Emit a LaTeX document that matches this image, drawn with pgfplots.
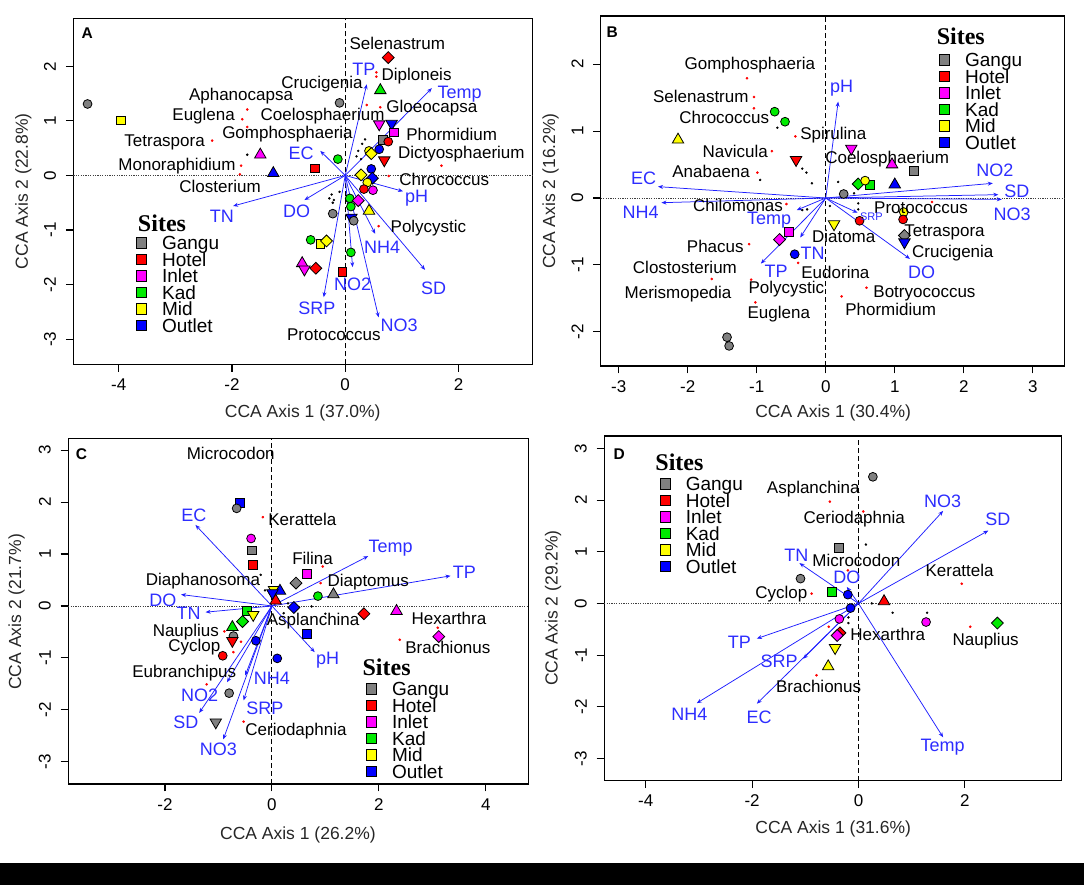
\documentclass[border=0pt]{standalone}
\usepackage{fontspec}
\setmainfont{Liberation Sans}
\newfontfamily\sitesfont{Liberation Serif}
\usepackage{pgfplots}
\pgfplotsset{compat=1.18}
\usetikzlibrary{arrows.meta}

\definecolor{sgray}{RGB}{128,128,128}
\definecolor{hred}{RGB}{255,0,0}
\definecolor{imag}{RGB}{255,0,255}
\definecolor{kgreen}{RGB}{0,235,0}
\definecolor{myel}{RGB}{255,255,0}
\definecolor{oblue}{RGB}{0,0,255}
\definecolor{envblue}{RGB}{45,45,255}
\definecolor{arrblue}{RGB}{30,30,255}

\newcommand\fs[1]{\fontsize{#1}{#1}\selectfont}
\newcommand\lst{\rule[-1.8pt]{0pt}{16.8pt}}

% R-like filled markers
\pgfdeclareplotmark{rtri}{%
  \pgfpathmoveto{\pgfqpoint{0pt}{1.5\pgfplotmarksize}}%
  \pgfpathlineto{\pgfqpoint{1.3\pgfplotmarksize}{-0.75\pgfplotmarksize}}%
  \pgfpathlineto{\pgfqpoint{-1.3\pgfplotmarksize}{-0.75\pgfplotmarksize}}%
  \pgfpathclose\pgfusepathqfillstroke}
\pgfdeclareplotmark{rtriv}{%
  \pgfpathmoveto{\pgfqpoint{0pt}{-1.5\pgfplotmarksize}}%
  \pgfpathlineto{\pgfqpoint{1.3\pgfplotmarksize}{0.75\pgfplotmarksize}}%
  \pgfpathlineto{\pgfqpoint{-1.3\pgfplotmarksize}{0.75\pgfplotmarksize}}%
  \pgfpathclose\pgfusepathqfillstroke}
\pgfdeclareplotmark{rdia}{%
  \pgfpathmoveto{\pgfqpoint{0pt}{1.35\pgfplotmarksize}}%
  \pgfpathlineto{\pgfqpoint{1.35\pgfplotmarksize}{0pt}}%
  \pgfpathlineto{\pgfqpoint{0pt}{-1.35\pgfplotmarksize}}%
  \pgfpathlineto{\pgfqpoint{-1.35\pgfplotmarksize}{0pt}}%
  \pgfpathclose\pgfusepathqfillstroke}

\tikzset{sb/.style={draw=black,line width=0.8pt}}

\newcommand\lgimg[1]{\addlegendimage{legend image code/.code={\draw[black,fill=#1,line width=0.9pt] (-5.3pt,-5.3pt) rectangle (5.3pt,5.3pt);}}}
\newcommand\siteslegend{%
  \lgimg{sgray}\addlegendentry{\lst Gangu}
  \lgimg{hred}\addlegendentry{\lst Hotel}
  \lgimg{imag}\addlegendentry{\lst Inlet}
  \lgimg{kgreen}\addlegendentry{\lst Kad}
  \lgimg{myel}\addlegendentry{\lst Mid}
  \lgimg{oblue}\addlegendentry{\lst Outlet}}

\pgfplotsset{
  sites/.style={scatter, only marks, scatter src=explicit symbolic, mark size=4.4pt, forget plot,
    scatter/classes={
      Gc={mark=*,fill=sgray,sb}, Gs={mark=square*,fill=sgray,sb}, Gd={mark=rdia,fill=sgray,sb}, Gt={mark=rtri,fill=sgray,sb}, Gv={mark=rtriv,fill=sgray,sb},
      Hc={mark=*,fill=hred,sb}, Hs={mark=square*,fill=hred,sb}, Hd={mark=rdia,fill=hred,sb}, Ht={mark=rtri,fill=hred,sb}, Hv={mark=rtriv,fill=hred,sb},
      Ic={mark=*,fill=imag,sb}, Is={mark=square*,fill=imag,sb}, Id={mark=rdia,fill=imag,sb}, It={mark=rtri,fill=imag,sb}, Iv={mark=rtriv,fill=imag,sb},
      Kc={mark=*,fill=kgreen,sb}, Ks={mark=square*,fill=kgreen,sb}, Kd={mark=rdia,fill=kgreen,sb}, Kt={mark=rtri,fill=kgreen,sb}, Kv={mark=rtriv,fill=kgreen,sb},
      Mc={mark=*,fill=myel,sb}, Ms={mark=square*,fill=myel,sb}, Md={mark=rdia,fill=myel,sb}, Mt={mark=rtri,fill=myel,sb}, Mv={mark=rtriv,fill=myel,sb},
      Oc={mark=*,fill=oblue,sb}, Os={mark=square*,fill=oblue,sb}, Od={mark=rdia,fill=oblue,sb}, Ot={mark=rtri,fill=oblue,sb}, Ov={mark=rtriv,fill=oblue,sb}}},
  arrows/.style={arrblue, line width=0.75pt, forget plot, quiver={u=\thisrow{u},v=\thisrow{v}}, -{Stealth[length=5pt,width=4pt]}},
  splab/.style={only marks, mark=none, forget plot, nodes near coords, point meta=explicit symbolic,
    every node near coord/.append style={anchor=center, inner sep=0pt, font=\fs{17}, black}},
  envlab/.style={only marks, mark=none, forget plot, nodes near coords, point meta=explicit symbolic,
    every node near coord/.append style={anchor=center, inner sep=0pt, font=\fs{18}, envblue}},
  reddots/.style={only marks, forget plot, mark=*, mark size=1.1pt, hred},
  blkdots/.style={only marks, forget plot, mark=*, mark size=1.0pt, black},
  vline/.style={forget plot, black, line width=0.9pt, dash pattern=on 5pt off 3pt},
  hline/.style={forget plot, black!75, line width=0.8pt, dash pattern=on 1.2pt off 1.2pt},
  cca/.style={
    scale only axis, clip=false, anchor=south west,
    axis line style={line width=1.1pt},
    every tick/.style={black, line width=1.1pt},
    tick align=outside, major tick length=7.5pt,
    xtick pos=left, ytick pos=left,
    tick label style={font=\fs{17}, inner sep=0pt},
    xticklabel style={anchor=north, outer sep=6.9pt},
    yticklabel style={rotate=90, anchor=south, outer sep=9.9pt},
    label style={font=\fs{17.5}, color=black!85},
    legend style={draw=none, fill=none, inner sep=0pt, outer sep=0pt, anchor=north west,
      font=\fs{19}, column sep=14.8pt, row sep=0pt, nodes={inner sep=0pt}},
    legend cell align=left},
}

\begin{document}
\begin{tikzpicture}
\useasboundingbox (0,0) rectangle (1084pt,885pt);
\fill[black] (0,0) rectangle (1084pt,22pt);

% ---------------- A ----------------
\begin{axis}[cca, at={(73.4pt,520.7pt)}, width=458.7pt, height=346pt,
  xmin=-4.8, xmax=3.3, ymin=-3.46, ymax=2.88,
  xtick={-4,-2,0,2}, xticklabels={-4,-2,0,2},
  ytick={-3,-2,-1,0,1,2}, yticklabels={-3,-2,-1,0,1,2},
  xlabel={CCA Axis 1 (37.0\%)}, ylabel={CCA Axis 2 (22.8\%)},
  xlabel style={at={(axis description cs:0.5,-0.1416)}, anchor=center},
  ylabel style={at={(axis description cs:-0.109,0.5)}, anchor=center},
  legend style={at={(axis description cs:0.136,0.374)}}]
\siteslegend
\addplot[vline] coordinates {(0,-3.46) (0,2.88)};
\addplot[hline] coordinates {(-4.8,0) (3.3,0)};
\addplot[arrows] table[row sep=\\] {x y u v \\
0 0 0.38 1.67 \\ 0 0 1.53 1.60 \\ 0 0 -0.44 0.45 \\ 0 0 -1.98 -0.56 \\
0 0 -0.72 -0.45 \\ 0 0 1.02 -0.29 \\ 0 0 0.53 -1.07 \\ 0 0 1.41 -1.73 \\
0 0 0.59 -2.60 \\ 0 0 0.13 -1.68 \\ 0 0 -0.38 -2.23 \\};
\addplot[blkdots] table[row sep=\\] {x y \\
-1.73 0.38 \\ -0.24 -0.35 \\ -0.20 -0.45 \\ -0.28 -0.42 \\ -0.22 -0.50 \\ 0.23 0.45 \\
0.30 0.58 \\ 0.35 0.66 \\ -0.10 -0.30 \\ 0.28 0.30 \\ 0.20 0.35 \\};
\addplot[reddots] table[row sep=\\] {x y \\
0.55 1.89 \\ 0.55 1.81 \\ -1.73 1.21 \\ 0.62 1.25 \\ 0.38 1.29 \\ -1.82 1.03 \\ -1.73 0.89 \\
-2.35 0.64 \\ 1.70 0.18 \\ -1.84 0.18 \\ 0.77 -0.01 \\ -1.86 0.02 \\ 0.59 -0.93 \\};
\addplot[sites] table[meta=c, row sep=\\] {x y c \\
-4.55 1.31 Gc \\ -3.96 1.01 Ms \\ -1.50 0.38 It \\ -1.27 0.04 Ot \\ -0.54 0.13 Hs \\
-0.10 1.33 Gc \\ 0.62 1.56 Kt \\ 0.76 2.16 Hd \\ 0.60 0.94 Iv \\ 0.82 0.95 Ov \\
0.86 0.79 Is \\ 0.66 0.65 Gs \\ 0.76 0.62 Hc \\ 0.60 0.48 Oc \\ 0.42 0.45 Mc \\
0.46 0.40 Md \\ 0.69 0.28 Hv \\ -0.13 0.30 Kc \\ 0.46 0.12 Oc \\ 0.28 0.01 Md \\
0.48 -0.05 Od \\ 0.39 -0.13 Mc \\ 0.33 -0.25 Hc \\ 0.49 -0.27 Ic \\ 0.08 -0.42 Kc \\
0.23 -0.46 Id \\ 0.10 -0.57 Kc \\ 0.42 -0.65 Mt \\ -0.22 -0.70 Gc \\ 0.11 -0.77 Ov \\
0.15 -0.83 Gc \\ -0.61 -1.18 Kc \\ -0.44 -1.25 Ms \\ -0.33 -1.20 Md \\ 0.10 -1.41 Kc \\
-0.76 -1.61 It \\ -0.72 -1.72 Iv \\ -0.52 -1.70 Hd \\ -0.05 -1.76 Hs \\};
\addplot[splab] table[meta=t, row sep=\\] {x y t \\
0.92 2.42 Selenastrum \\ 1.26 1.82 Diploneis \\ -0.41 1.67 Crucigenia \\
-1.84 1.46 Aphanocapsa \\ 1.53 1.23 Gloeocapsa \\ -2.50 1.09 Euglena \\
-0.40 1.09 Coelosphaerium \\ -1.02 0.76 Gomphosphaeria \\ 1.88 0.76 Phormidium \\
-3.19 0.60 Tetraspora \\ 2.05 0.40 Dictyosphaerium \\ -2.97 0.18 Monoraphidium \\
1.75 -0.07 Chrococcus \\ -2.21 -0.21 Closterium \\ 1.47 -0.97 Polycystic \\
-0.20 -2.92 Protococcus \\};
\addplot[envlab] table[meta=t, row sep=\\] {x y t \\
0.33 1.95 TP \\ 2.02 1.49 Temp \\ -0.78 0.40 EC \\ -2.18 -0.74 TN \\ -0.86 -0.66 DO \\
1.26 -0.42 pH \\ 0.65 -1.32 NH4 \\ 1.56 -2.06 SD \\ 0.95 -2.74 NO3 \\ 0.13 -2.00 NO2 \\
-0.50 -2.43 SRP \\};
\node[anchor=west, inner sep=0pt, font=\sitesfont\bfseries\fs{24}] at (axis description cs:0.1404,0.4075) {Sites};
\node[inner sep=0pt, font=\bfseries\fs{15.5}] at (axis description cs:0.030,0.957) {A};
\end{axis}

% ---------------- B ----------------
\begin{axis}[cca, at={(600.7pt,519pt)}, width=463.9pt, height=350pt,
  xmin=-3.26, xmax=3.46, ymin=-2.51, ymax=2.72,
  xtick={-3,-2,-1,0,1,2,3}, xticklabels={-3,-2,-1,0,1,2,3},
  ytick={-2,-1,0,1,2}, yticklabels={-2,-1,0,1,2},
  xlabel={CCA Axis 1 (30.4\%)}, ylabel={CCA Axis 2 (16.2\%)},
  xlabel style={at={(axis description cs:0.501,-0.134)}, anchor=center},
  ylabel style={at={(axis description cs:-0.108,0.5)}, anchor=center},
  legend style={at={(axis description cs:0.7288,0.898)}}]
\siteslegend
\addplot[vline] coordinates {(0,-2.51) (0,2.72)};
\addplot[hline] coordinates {(-3.26,0) (3.46,0)};
\addplot[arrows] table[row sep=\\] {x y u v \\
0 0 0.18 1.44 \\ 0 0 -2.43 0.17 \\ 0 0 -2.38 -0.07 \\ 0 0 2.42 0.22 \\
0 0 2.50 0.05 \\ 0 0 2.55 -0.02 \\ 0 0 1.22 -0.91 \\ 0 0 -0.94 -0.98 \\
0 0 -0.37 -0.59 \\ 0 0 -0.42 -0.18 \\ 0 0 0.46 -0.22 \\};
\addplot[blkdots] table[row sep=\\] {x y \\
-0.70 1.05 \\ -0.34 0.44 \\ -0.28 0.38 \\ -0.20 0.22 \\ -0.95 0.27 \\ 0.18 0.24 \\
0.47 -0.08 \\ 0.47 -0.17 \\ -0.27 -0.17 \\ -0.34 -0.18 \\ 0.41 0.07 \\ 0.06 -0.12 \\};
\addplot[reddots] table[row sep=\\] {x y \\
-1.14 1.79 \\ -1.04 1.51 \\ -1.04 1.34 \\ -0.44 0.92 \\ -0.78 0.70 \\ -0.99 0.38 \\
-0.57 -0.09 \\ 1.54 -0.06 \\ -1.11 -0.69 \\ -1.65 -1.21 \\ -0.40 -0.97 \\ -1.08 -1.22 \\
0.59 -1.34 \\ 0.23 -1.47 \\ -1.02 -1.56 \\};
\addplot[sites] table[meta=c, row sep=\\] {x y c \\
-0.74 1.29 Kc \\ -0.59 1.14 Kc \\ -2.14 0.87 Mt \\ -0.43 0.57 Hv \\ 0.37 0.74 Iv \\
0.96 0.50 It \\ 1.28 0.40 Gs \\ 1.00 0.20 Ot \\ 0.26 0.06 Gc \\ 0.47 0.21 Kd \\
0.64 0.20 Ks \\ 0.57 0.26 Mc \\ 0.12 -0.39 Mv \\ 0.49 -0.34 Hc \\ 1.13 -0.21 Mc \\
1.12 -0.32 Hc \\ 1.14 -0.56 Gd \\ 1.14 -0.66 Ov \\ -0.53 -0.51 Is \\ -0.67 -0.62 Id \\
-0.45 -0.84 Oc \\ -1.43 -2.08 Gc \\ -1.40 -2.21 Gc \\};
\addplot[splab] table[meta=t, row sep=\\] {x y t \\
-1.10 1.99 Gomphosphaeria \\ -1.81 1.52 Selenastrum \\ -1.47 1.20 Chrococcus \\
0.11 0.94 Spirulina \\ -1.31 0.70 Navicula \\ 0.89 0.58 Coelosphaerium \\
-1.66 0.39 Anabaena \\ -1.27 -0.11 Chilomonas \\ 1.38 -0.14 Protococcus \\
0.26 -0.57 Diatoma \\ 1.72 -0.52 Tetraspora \\ -1.60 -0.72 Phacus \\
1.84 -0.82 Crucigenia \\ -2.04 -1.03 Clostosterium \\ 0.14 -1.11 Eudorina \\
-0.57 -1.36 Polycystic \\ -2.14 -1.43 Merismopedia \\ 1.43 -1.43 Botryococcus \\
0.94 -1.67 Phormidium \\ -0.68 -1.73 Euglena \\};
\addplot[envlab] table[meta=t, row sep=\\] {x y t \\
0.23 1.64 pH \\ -2.64 0.29 EC \\ -2.68 -0.21 NH4 \\ 2.45 0.41 NO2 \\ 2.77 0.10 SD \\
2.70 -0.24 NO3 \\ 1.39 -1.11 DO \\ -0.72 -1.09 TP \\ -0.19 -0.83 TN \\ -0.82 -0.33 Temp \\};
\addplot[envlab, every node near coord/.append style={font=\fs{11}}] table[meta=t, row sep=\\] {x y t \\
0.66 -0.28 SRP \\};
\node[anchor=west, inner sep=0pt, font=\sitesfont\bfseries\fs{24}] at (axis description cs:0.724,0.941) {Sites};
\node[inner sep=0pt, font=\bfseries\fs{15.5}] at (axis description cs:0.0247,0.954) {B};
\end{axis}

% ---------------- C ----------------
\begin{axis}[cca, at={(68.2pt,101pt)}, width=460.4pt, height=345.7pt,
  xmin=-3.81, xmax=4.80, ymin=-3.43, ymax=3.23,
  xtick={-2,0,2,4}, xticklabels={-2,0,2,4},
  ytick={-3,-2,-1,0,1,2,3}, yticklabels={-3,-2,-1,0,1,2,3},
  xlabel={CCA Axis 1 (26.2\%)}, ylabel={CCA Axis 2 (21.7\%)},
  xlabel style={at={(axis description cs:0.499,-0.1475)}, anchor=center},
  ylabel style={at={(axis description cs:-0.112,0.498)}, anchor=center},
  legend style={at={(axis description cs:0.6465,0.299)}}]
\siteslegend
\addplot[vline] coordinates {(0,-3.43) (0,3.23)};
\addplot[hline] coordinates {(-3.81,0) (4.80,0)};
\addplot[arrows] table[row sep=\\] {x y u v \\
0 0 -1.43 1.56 \\ 0 0 1.80 0.96 \\ 0 0 3.34 0.58 \\ 0 0 -1.70 0.22 \\
0 0 -1.24 -0.12 \\ 0 0 0.80 -0.89 \\ 0 0 -0.50 -1.34 \\ 0 0 -0.53 -1.82 \\
0 0 -0.84 -1.47 \\ 0 0 -1.36 -2.06 \\ 0 0 -0.91 -2.57 \\};
\addplot[blkdots] table[row sep=\\] {x y \\
-0.21 0.60 \\ 0.74 -0.01 \\ 1.00 -0.15 \\ 0.22 -0.14 \\ -0.13 0.30 \\ 0.30 0.05 \\};
\addplot[reddots] table[row sep=\\] {x y \\
-0.17 1.71 \\ 0.95 0.76 \\ 0.91 0.44 \\ 3.10 -0.42 \\ -0.89 -0.49 \\ 2.39 -0.65 \\
-0.58 -0.69 \\ -0.72 -0.89 \\ -1.22 -1.51 \\ -0.53 -2.23 \\};
\addplot[sites] table[meta=c, row sep=\\] {x y c \\
-0.60 1.98 Os \\ -0.66 1.88 Gc \\ -0.39 1.30 Ic \\ -0.37 1.07 Gs \\ -0.35 0.79 Hs \\
0.04 0.31 Mv \\ 0.15 0.29 Ot \\ 0.01 0.25 Ov \\ 0.07 0.10 Ht \\ 0.45 0.44 Gd \\
0.66 0.62 Is \\ 0.86 0.19 Kc \\ 1.15 0.22 Gt \\ 0.41 -0.03 Od \\ 1.72 -0.15 Hd \\
2.33 -0.10 It \\ 3.12 -0.59 Id \\ 0.66 -0.54 Os \\ 0.10 -1.01 Oc \\ -0.30 -0.67 Oc \\
-0.47 -0.09 Ks \\ -0.35 -0.17 Mv \\ -0.55 -0.30 Kd \\ -0.74 -0.41 Kt \\ -0.72 -0.58 Gc \\
-0.74 -0.67 Hv \\ -0.92 -0.96 Hc \\ -0.80 -1.68 Gc \\ -1.05 -2.24 Gv \\};
\addplot[splab] table[meta=t, row sep=\\] {x y t \\
-0.77 2.93 Microcodon \\ 0.57 1.66 Kerattela \\ 0.76 0.91 Filina \\
-1.29 0.47 Diaphanosoma \\ 1.80 0.46 Diaptomus \\ 0.77 -0.30 Asplanchina \\
3.31 -0.24 Hexarthra \\ -1.61 -0.51 Nauplius \\ 3.29 -0.80 Brachionus \\
-1.45 -0.80 Cyclop \\ -1.64 -1.30 Eubranchipus \\ 0.45 -2.41 Ceriodaphnia \\};
\addplot[envlab] table[meta=t, row sep=\\] {x y t \\
-1.46 1.74 EC \\ 2.22 1.12 Temp \\ 3.60 0.64 TP \\ -2.04 0.10 DO \\ -1.56 -0.15 TN \\
1.04 -1.05 pH \\ 0.00 -1.39 NH4 \\ -0.13 -1.98 SRP \\ -1.35 -1.73 NO2 \\ -1.61 -2.25 SD \\
-1.00 -2.77 NO3 \\};
\node[anchor=west, inner sep=0pt, font=\sitesfont\bfseries\fs{24}] at (axis description cs:0.639,0.3376) {Sites};
\node[inner sep=0pt, font=\bfseries\fs{15.5}] at (axis description cs:0.029,0.955) {C};
\end{axis}

% ---------------- D ----------------
\begin{axis}[cca, at={(604.2pt,104.3pt)}, width=457pt, height=344.7pt,
  xmin=-4.78, xmax=3.81, ymin=-3.43, ymax=3.24,
  xtick={-4,-2,0,2}, xticklabels={-4,-2,0,2},
  ytick={-3,-2,-1,0,1,2,3}, yticklabels={-3,-2,-1,0,1,2,3},
  xlabel={CCA Axis 1 (31.6\%)}, ylabel={CCA Axis 2 (29.2\%)},
  xlabel style={at={(axis description cs:0.501,-0.140)}, anchor=center},
  ylabel style={at={(axis description cs:-0.1116,0.501)}, anchor=center},
  legend style={at={(axis description cs:0.121,0.885)}}]
\siteslegend
\addplot[vline] coordinates {(0,-3.43) (0,3.24)};
\addplot[hline] coordinates {(-4.78,0) (3.81,0)};
\addplot[arrows] table[row sep=\\] {x y u v \\
0 0 1.59 1.79 \\ 0 0 2.44 1.41 \\ 0 0 -1.11 0.78 \\ 0 0 -0.22 0.32 \\
0 0 -1.91 -0.68 \\ 0 0 -1.04 -1.07 \\ 0 0 -3.04 -1.93 \\ 0 0 -1.91 -1.94 \\
0 0 1.59 -2.59 \\};
\addplot[blkdots] table[row sep=\\] {x y \\
0.14 1.14 \\ 0.25 0.00 \\ 0.64 -0.18 \\ 1.29 -0.18 \\ -0.19 -0.27 \\ -0.19 -0.38 \\};
\addplot[reddots] table[row sep=\\] {x y \\
-0.54 1.97 \\ 0.09 1.78 \\ -0.20 0.64 \\ 1.94 0.38 \\ -0.88 0.19 \\ -0.56 -0.45 \\
2.10 -0.45 \\ -0.79 -1.39 \\};
\addplot[sites] table[meta=c, row sep=\\] {x y c \\
0.27 2.45 Gc \\ -0.37 1.07 Gs \\ -1.09 0.48 Gc \\ -0.50 0.22 Ks \\ -0.20 0.17 Oc \\
-0.15 -0.09 Oc \\ 0.48 0.04 Ht \\ -0.36 -0.30 Ic \\ -0.35 -0.57 Hd \\ -0.40 -0.62 Id \\
-0.44 -0.86 Mv \\ -0.57 -1.22 Mt \\ 1.27 -0.36 Ic \\ 2.61 -0.38 Kd \\};
\addplot[splab] table[meta=t, row sep=\\] {x y t \\
-0.85 2.22 Asplanchina \\ -0.08 1.63 Ceriodaphnia \\ -0.04 0.83 Microcodon \\
1.90 0.64 Kerattela \\ -1.45 0.19 Cyclop \\ 0.55 -0.59 Hexarthra \\
2.39 -0.72 Nauplius \\ -0.75 -1.61 Brachionus \\};
\addplot[envlab] table[meta=t, row sep=\\] {x y t \\
1.58 1.98 NO3 \\ 2.62 1.62 SD \\ -1.17 0.93 TN \\ -0.22 0.51 DO \\ -2.24 -0.75 TP \\
-1.49 -1.12 SRP \\ -3.18 -2.14 NH4 \\ -1.87 -2.20 EC \\ 1.58 -2.78 Temp \\};
\node[anchor=west, inner sep=0pt, font=\sitesfont\bfseries\fs{24}] at (axis description cs:0.1116,0.9225) {Sites};
\node[inner sep=0pt, font=\bfseries\fs{15.5}] at (axis description cs:0.0326,0.948) {D};
\end{axis}
\end{tikzpicture}
\end{document}
